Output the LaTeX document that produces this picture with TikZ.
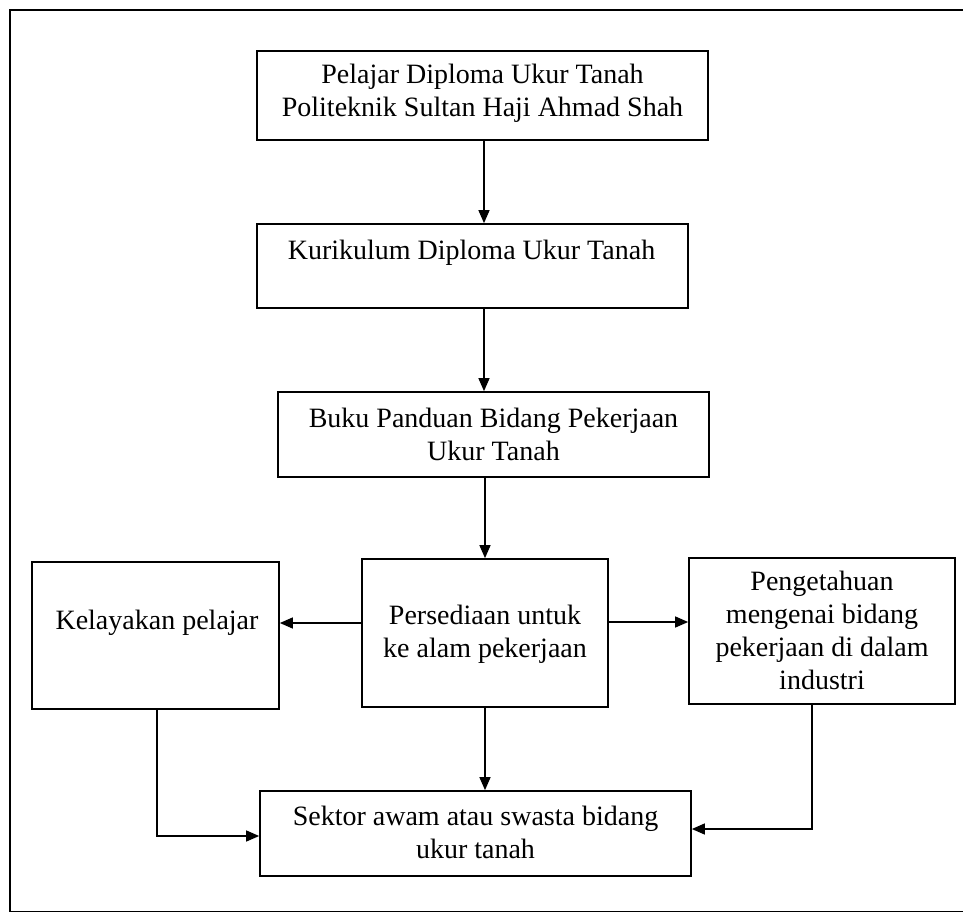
\documentclass[tikz,border=0pt]{standalone}
\usepackage{fontspec}
\setmainfont{Liberation Serif}
\usetikzlibrary{arrows.meta,calc}
\begin{document}
\begin{tikzpicture}[x=1pt,y=-1pt,
  box/.style={draw, line width=1.7pt, rectangle, inner sep=0pt},
  txt/.style={align=center, inner sep=0pt, font=\fontsize{28}{33}\selectfont},
  arr/.style={line width=1.4pt, -{Triangle[length=13pt,width=11pt]}},
  ln/.style={line width=1.4pt}]
\useasboundingbox (0,0) rectangle (963,912);
\draw[line width=1.4pt] (10,10) rectangle (975,911.5);
% boxes
\node[box, minimum width=451pt, minimum height=89pt] (b1) at (482.5,95.5) {};
\node[box, minimum width=431pt, minimum height=84pt] (b2) at (472.5,266) {};
\node[box, minimum width=431pt, minimum height=85pt] (b3) at (493.5,434.5) {};
\node[box, minimum width=247pt, minimum height=147pt] (bL) at (155.5,635.5) {};
\node[box, minimum width=246pt, minimum height=148pt] (bM) at (485,633) {};
\node[box, minimum width=266pt, minimum height=146pt] (bR) at (822,631) {};
\node[box, minimum width=431pt, minimum height=85pt] (bB) at (475.5,833.5) {};
% texts
\node[txt] (t1) at (482.5,93) {Pelajar Diploma Ukur Tanah\\Politeknik Sultan Haji Ahmad Shah};
\node[txt] (t2) at (471.5,253) {Kurikulum Diploma Ukur Tanah};
\node[txt] (t3) at (493.5,434) {Buku Panduan Bidang Pekerjaan\\Ukur Tanah};
\node[txt] (tL) at (157,623) {Kelayakan pelajar};
\node[txt] (tM) at (485,634.5) {Persediaan untuk\\ke alam pekerjaan};
\node[txt] (tR) at (822,630.5) {Pengetahuan\\mengenai bidang\\pekerjaan di dalam\\industri};
\node[txt] (tB) at (475.5,832.5) {Sektor awam atau swasta bidang\\ukur tanah};
% connectors
\coordinate (cx) at (484,0);
\coordinate (ly) at (0,623);
\coordinate (ry) at (0,622);
\draw[arr] (b1.south -| cx) -- (b2.north -| cx);
\draw[arr] (b2.south -| cx) -- (b3.north -| cx);
\draw[arr] (b3.south -| bM.north) -- (bM.north);
\draw[arr] (bM.west |- ly) -- (bL.east |- ly);
\draw[arr] (bM.east |- ry) -- (bR.west |- ry);
\draw[arr] (bM.south) -- (bM.south |- bB.north);
\coordinate (lc) at (157,836);
\coordinate (rc) at (812,829);
\draw[arr] (bL.south -| lc) |- (bB.west |- lc);
\draw[arr] (bR.south -| rc) |- (bB.east |- rc);
\end{tikzpicture}
\end{document}
